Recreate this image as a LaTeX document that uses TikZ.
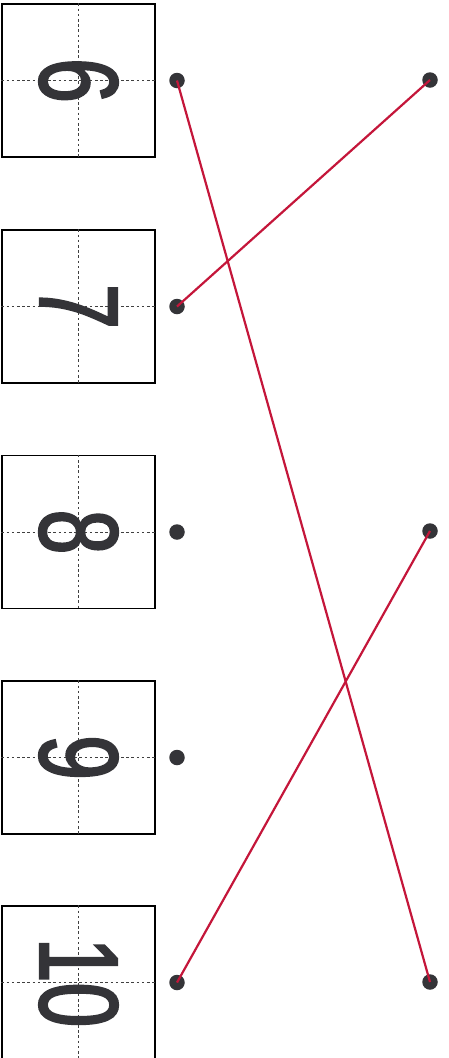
\documentclass[tikz,border=0pt]{standalone}
\usepackage{fontspec}
\usepackage{tikz}
\usetikzlibrary{positioning}
\newfontfamily\digitfont[FakeStretch=0.72, FakeBold=1.8]{Liberation Sans}
\definecolor{linkred}{RGB}{196,22,58}
\definecolor{inkgray}{RGB}{52,52,56}

\begin{document}
\begin{tikzpicture}[x=1pt, y=-1pt,
    cell/.style={draw, line width=1.3pt, minimum size=153pt, inner sep=0pt},
    guide/.style={line width=1pt, black!75, dash pattern=on 2.6pt off 2.6pt},
    digit/.style={rotate=-90, inner sep=0pt, text=inkgray,
                  font=\digitfont\fontsize{112}{112}\selectfont},
    dot/.style={circle, fill=inkgray, inner sep=0pt, minimum size=15.5pt},
    link/.style={line width=2.2pt, draw=linkred}
]
\useasboundingbox (0,0) rectangle (448,1058);
\foreach \n/\y in {6/80.5, 7/306.5, 8/532, 9/757.5, 10/982.5}{
  \node[cell] (c\n) at (78.5,\y) {};
  \draw[guide] (c\n.west) -- (c\n.east);
  \draw[guide] (c\n.north) -- (c\n.south);
  \node[digit] (d\n) at (c\n) {\n};
  \node[dot] (l\n) at (177,\y) {};
}
\node[dot] (ra) at (430,80) {};
\node[dot] (rb) at (430,531) {};
\node[dot] (rc) at (430,982) {};
\draw[link] (l6.center) -- (rc.center);
\draw[link] (l7.center) -- (ra.center);
\draw[link] (l10.center) -- (rb.center);
\end{tikzpicture}
\end{document}
